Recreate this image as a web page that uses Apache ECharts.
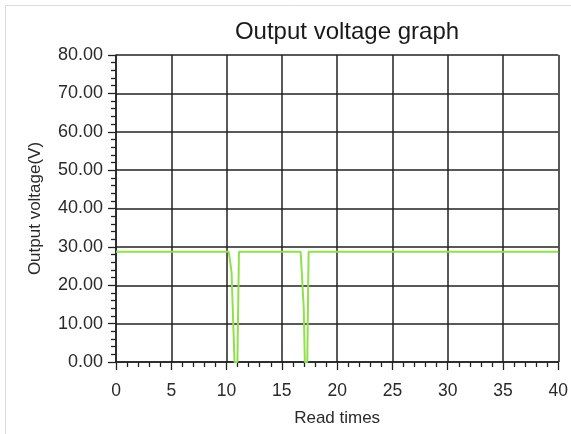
<!DOCTYPE html>
<html><head><meta charset="utf-8">
<script src="https://cdn.jsdelivr.net/npm/echarts@6/dist/echarts.min.js"></script>
<style>html,body{margin:0;padding:0;background:#fff}#c{width:571px;height:434px}</style>
</head><body><div id="c"></div>
<script>
const titleText = "Output voltage graph";
const xName = "Read times";
const yName = "Output voltage(V)";
const readTimes = [0, 10.2, 10.45, 10.6, 10.72, 10.98, 11.12, 11.3, 16.7, 16.98, 17.08, 17.3, 17.42, 17.55, 40];
const voltage  = [28.7, 28.7, 23.4, 23.4, 0, 0, 28.7, 28.7, 28.7, 14.0, 0, 0, 28.7, 28.7, 28.7];

const data = readTimes.map((x, i) => [x, voltage[i]]);
const chart = echarts.init(document.getElementById('c'), null, {renderer: 'canvas'});
const font = '"Liberation Sans", Arial, sans-serif';
chart.setOption({
  animation: false,
  backgroundColor: '#fff',
  graphic: [{type: 'rect', shape: {x: 5.5, y: 5.5, width: 700, height: 600}, style: {fill: 'none', stroke: '#dcdcdc', lineWidth: 1}, silent: true}],
  title: {text: titleText, left: 342, top: 15, textAlign: 'center',
    textStyle: {fontFamily: font, fontSize: 24, fontWeight: 'normal', color: '#1a1a1a'}},
  grid: {left: 116, right: 12, top: 55, bottom: 72, containLabel: false},
  xAxis: {type: 'value', min: 0, max: 40, interval: 5,
    name: xName, nameLocation: 'middle', nameGap: 48,
    nameTextStyle: {fontFamily: font, fontSize: 17, color: '#2a2a2a'},
    axisLine: {show: true, lineStyle: {color: '#222', width: 1.5}},
    axisTick: {show: true, length: 8, lineStyle: {color: '#222', width: 1.3}},
    minorTick: {show: true, splitNumber: 5, length: 5, lineStyle: {color: '#222', width: 1.3}},
    axisLabel: {fontFamily: font, fontSize: 17.5, color: '#2a2a2a', margin: 20},
    splitLine: {show: true, lineStyle: {color: '#222', width: 1.5}}},
  yAxis: {type: 'value', min: 0, max: 80, interval: 10,
    name: yName, nameLocation: 'middle', nameGap: 72, nameRotate: 90,
    nameTextStyle: {fontFamily: font, fontSize: 17, color: '#2a2a2a'},
    axisLine: {show: true, lineStyle: {color: '#222', width: 1.5}},
    axisTick: {show: true, length: 8, lineStyle: {color: '#222', width: 1.3}},
    minorTick: {show: true, splitNumber: 5, length: 5, lineStyle: {color: '#222', width: 1.3}},
    axisLabel: {fontFamily: font, fontSize: 18, color: '#2a2a2a', margin: 13, formatter: v => v.toFixed(2)},
    splitLine: {show: true, lineStyle: {color: '#222', width: 1.5}}},
  series: [{type: 'line', data: data, showSymbol: false,
    lineStyle: {color: '#8fe04c', width: 2}, itemStyle: {color: '#8fe04c'}}]
});
</script></body></html>
